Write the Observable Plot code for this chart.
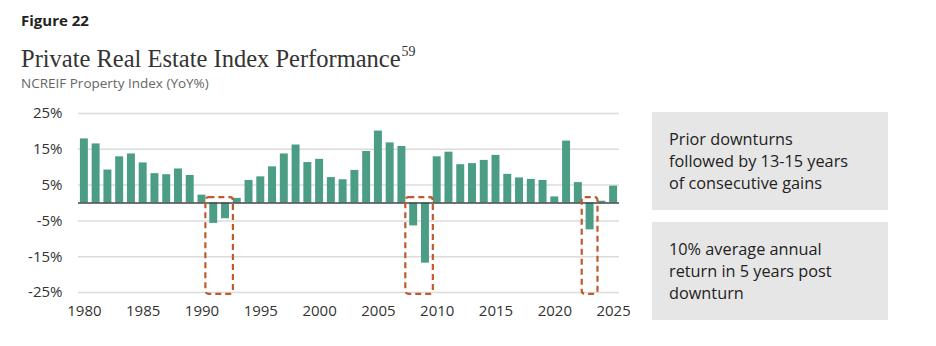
<!DOCTYPE html>
<html><head><meta charset="utf-8">
<script src="https://cdn.jsdelivr.net/npm/d3@7"></script>
<script src="https://cdn.jsdelivr.net/npm/@observablehq/plot@0.6"></script>
<style>
body{margin:0;background:#fff;width:936px;height:346px;position:relative;overflow:hidden;font-family:"Open Sans",sans-serif}
#fig{position:absolute;left:21px;top:10px;font-size:15px;font-weight:700;color:#222;line-height:20px}
#title{position:absolute;left:21px;top:43px;font-family:"Liberation Serif",serif;font-size:24.5px;color:#333;line-height:32px;white-space:nowrap}
#title sup{font-size:14px;vertical-align:0;position:relative;top:-11px;margin-left:1px}
#sub{position:absolute;left:21px;top:74px;font-size:13.5px;color:#666;line-height:18px}
#chart{position:absolute;left:0;top:100px}
.note{position:absolute;left:652px;width:219px;height:82px;padding:16px 0 0 17px;background:#e6e6e6;font-size:16.3px;line-height:22px;color:#222}
</style></head><body>
<div id="fig">Figure 22</div>
<div id="title">Private Real Estate Index Performance<sup>59</sup></div>
<div id="sub">NCREIF Property Index (YoY%)</div>
<div id="chart"></div>
<div class="note" style="top:112px">Prior downturns<br>followed by 13-15 years<br>of consecutive gains</div>
<div class="note" style="top:222px">10% average annual<br>return in 5 years post<br>downturn</div>
<script>
const years = [1980,1981,1982,1983,1984,1985,1986,1987,1988,1989,
  1990,1991,1992,1993,1994,1995,1996,1997,1998,1999,
  2000,2001,2002,2003,2004,2005,2006,2007,2008,2009,
  2010,2011,2012,2013,2014,2015,2016,2017,2018,2019,
  2020,2021,2022,2023,2024,2025];
const values = [17.9,16.5,9.2,12.9,13.7,11.2,8.2,7.9,9.5,7.7,
  2.2,-5.7,-4.4,1.3,6.3,7.3,10.1,13.7,16.2,11.3,
  12.2,7.1,6.5,9.1,14.4,20.1,16.8,15.8,-6.4,-16.8,
  12.9,14.2,10.7,11.0,11.9,13.3,8.0,7.0,6.6,6.3,
  1.7,17.3,5.7,-7.5,0.5,4.7];
const xTicks = [1980,1985,1990,1995,2000,2005,2010,2015,2020,2025];
const yTicks = [-25,-15,-5,5,15,25];
const boxStart = [1991,2008,2023];
const boxEnd = [1992,2009,2023];
const boxHigh = 1.5;
const boxLow = -25.5;

const data = years.map((year, i) => ({year, value: values[i]}));
const boxes = boxStart.map((s, i) => ({start: s, end: boxEnd[i], lo: boxLow, hi: boxHigh}));

const chart = Plot.plot({
  width: 630, height: 230,
  marginLeft: 78, marginRight: 11, marginTop: 13, marginBottom: 38,
  x: {domain: [1979.5, 2025.5], ticks: xTicks, tickFormat: d => String(d), tickSize: 0, tickPadding: 13, label: null},
  y: {domain: [-25, 25], ticks: yTicks, tickFormat: d => d + "%", tickSize: 0, tickPadding: 16, label: null},
  style: {fontFamily: "Open Sans", fontSize: "15px", color: "#333", background: "transparent"},
  marks: [
    Plot.gridY(yTicks, {stroke: "#dcdcdc", strokeOpacity: 1, strokeWidth: 1.5}),
    Plot.rectY(data, {x1: d => d.year - 0.5, x2: d => d.year + 0.5, y: "value", insetLeft: 1.9, insetRight: 1.9, fill: "#4c9d86"}),
    Plot.ruleY([0], {stroke: "#444", strokeWidth: 1.5}),
    Plot.rect(boxes, {x1: d => d.start - 0.5, x2: d => d.end + 0.5, y1: "lo", y2: "hi", insetLeft: -2, insetRight: -2, fill: "none", stroke: "#c05a2c", strokeWidth: 2.2, strokeDasharray: "6,4", rx: 3})
  ]
});
document.getElementById("chart").appendChild(chart);
</script>
</body></html>
